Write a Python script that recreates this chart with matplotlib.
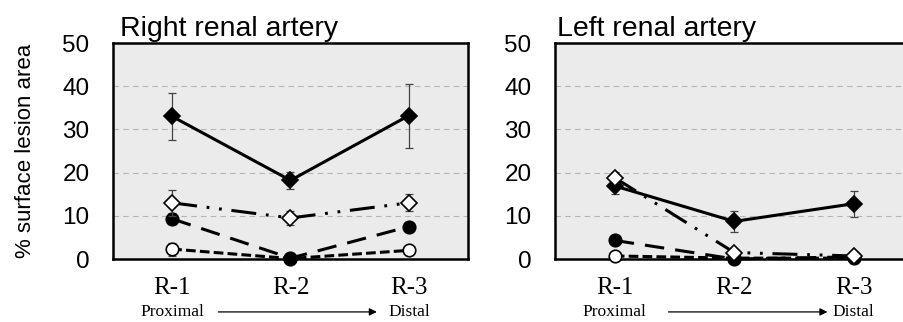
import matplotlib
matplotlib.use("Agg")
import matplotlib.pyplot as plt
import matplotlib.transforms as mtransforms

plt.rcParams['lines.scale_dashes'] = False

categories = ["R-1", "R-2", "R-3"]
y_ticks = [0, 10, 20, 30, 40, 50]

# Right renal artery
right_filled_diamond = [33.0, 18.2, 33.2]
right_filled_diamond_err = [5.5, 1.9, 7.4]
right_open_diamond = [13.0, 9.5, 13.0]
right_open_diamond_err = [3.0, 1.7, 2.0]
right_filled_circle = [9.3, 0.2, 7.5]
right_filled_circle_err = [1.3, 0.2, 1.0]
right_open_circle = [2.3, 0.1, 2.0]
right_open_circle_err = [1.5, 0.1, 0.3]

# Left renal artery
left_filled_diamond = [16.9, 8.7, 12.8]
left_filled_diamond_err = [1.9, 2.4, 3.0]
left_open_diamond = [18.8, 1.5, 0.7]
left_open_diamond_err = [1.3, 0.3, 0.3]
left_filled_circle = [4.3, 0.0, 0.5]
left_filled_circle_err = [0.5, 0.1, 0.2]
left_open_circle = [0.7, 0.2, 0.2]
left_open_circle_err = [0.2, 0.1, 0.1]

titles = ["Right renal artery", "Left renal artery"]
ylabel = "% surface lesion area"

panels = [
    (right_filled_diamond, right_filled_diamond_err, right_open_diamond, right_open_diamond_err,
     right_filled_circle, right_filled_circle_err, right_open_circle, right_open_circle_err),
    (left_filled_diamond, left_filled_diamond_err, left_open_diamond, left_open_diamond_err,
     left_filled_circle, left_filled_circle_err, left_open_circle, left_open_circle_err),
]

W, H = 904, 322
fig = plt.figure(figsize=(W / 100, H / 100), dpi=100)

axes_px = [(113, 43, 468, 259), (555, 43, 913.5, 259)]

sans = "Liberation Sans"
serif = "Liberation Serif"

lw = 2.2
styles = [
    dict(marker="D", mfc="black", mec="black", dashes=None),
    dict(marker="D", mfc="white", mec="black", dashes=(18, 7, 2, 7, 2, 7)),
    dict(marker="o", mfc="black", mec="black", dashes=(14, 8)),
    dict(marker="o", mfc="white", mec="black", dashes=(7, 3)),
]
msizes = [8.5, 8.5, 9, 9]
order_z = [3, 4, 2, 1]

for i, (data, (x0, y0, x1, y1)) in enumerate(zip(panels, axes_px)):
    ax = fig.add_axes([x0 / W, 1 - y1 / H, (x1 - x0) / W, (y1 - y0) / H])
    ax.set_facecolor("#ebebeb")
    xs = list(range(len(categories)))
    for k in range(4):
        vals = data[2 * k]
        errs = data[2 * k + 1]
        st = styles[k]
        ax.errorbar(xs, vals, yerr=errs, fmt="none", ecolor="#444444",
                    elinewidth=0.9, capsize=3, capthick=0.9, zorder=order_z[k])
        line, = ax.plot(xs, vals, color="black", lw=lw, marker=st["marker"],
                        mfc=st["mfc"], mec=st["mec"], mew=1.2, ms=msizes[k],
                        zorder=order_z[k] + 0.5, clip_on=False)
        if st["dashes"] is not None:
            line.set_dashes(st["dashes"])
    ax.set_xlim(-0.5, 2.5)
    ax.set_ylim(0, 50)
    ax.set_yticks(y_ticks)
    ax.set_yticklabels([str(t) for t in y_ticks], fontsize=17.5, family=sans)
    ax.set_xticks(xs)
    ax.set_xticklabels(categories, fontsize=18, family=serif)
    ax.tick_params(axis="y", length=0, pad=17)
    ax.tick_params(axis="x", length=0, pad=13)
    for yv in y_ticks[1:-1]:
        ax.axhline(yv, color="#b5b5b5", lw=0.8, ls=(0, (4, 3)), zorder=0.5)
    for sp in ax.spines.values():
        sp.set_linewidth(1.8)
        sp.set_color("black")
        sp.set_zorder(0.8)
    ax.set_title(titles[i], loc="left", fontsize=20.5, family=sans, pad=5,
                 x=0.02 if i == 0 else 0.005)
    if i == 0:
        ax.set_ylabel(ylabel, fontsize=16, family=sans, labelpad=19)
    trans = mtransforms.blended_transform_factory(ax.transData, ax.transAxes)
    yy = -0.245
    ax.text(0, yy, "Proximal", transform=trans, ha="center", va="center",
            fontsize=12.5, family=serif, clip_on=False)
    ax.text(2, yy, "Distal", transform=trans, ha="center", va="center",
            fontsize=12.5, family=serif, clip_on=False)
    ax.annotate("", xy=(1.73 if i == 0 else 1.78, yy), xytext=(0.39 if i == 0 else 0.45, yy),
                xycoords=trans, textcoords=trans,
                arrowprops=dict(arrowstyle="-|>", color="black", lw=0.9,
                                mutation_scale=11, shrinkA=0, shrinkB=0),
                annotation_clip=False)

fig.savefig("out.png", dpi=100)
